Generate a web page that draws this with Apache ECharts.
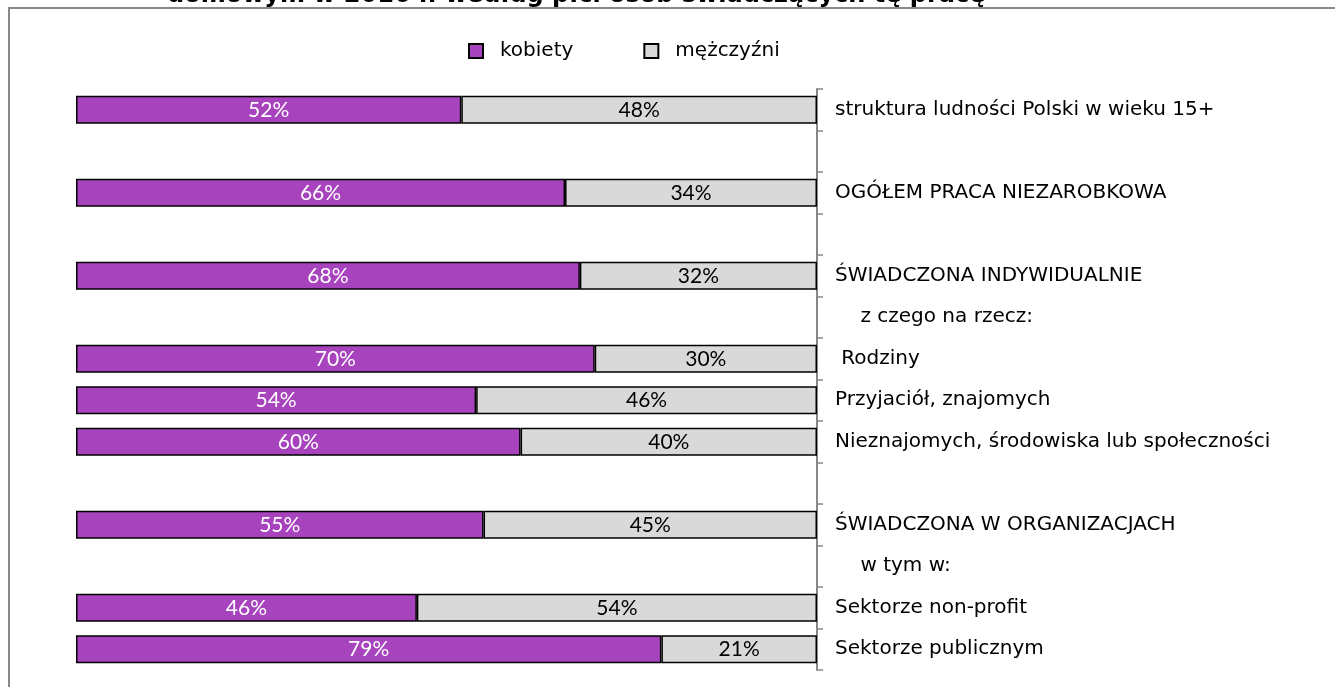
<!DOCTYPE html>
<html>
<head>
<meta charset="utf-8">
<script src="https://cdn.jsdelivr.net/npm/echarts@6/dist/echarts.min.js"></script>
<style>
  html, body { margin: 0; padding: 0; background: #fff; }
  #chart { width: 1335px; height: 687px; }
</style>
</head>
<body>
<div id="chart"></div>
<script>
  // kategorie (puste wiersze = odstępy jak w oryginale)
  var categories = [
    'struktura ludności Polski w wieku 15+',
    '',
    'OGÓŁEM PRACA NIEZAROBKOWA',
    '',
    'ŚWIADCZONA INDYWIDUALNIE',
    '    z czego na rzecz:',
    ' Rodziny',
    'Przyjaciół, znajomych',
    'Nieznajomych, środowiska lub społeczności',
    '',
    'ŚWIADCZONA W ORGANIZACJACH',
    '    w tym w:',
    'Sektorze non-profit',
    'Sektorze publicznym'
  ];
  var kobiety = [52, '-', 66, '-', 68, '-', 70, 54, 60, '-', 55, '-', 46, 79];
  var mezczyzni = [48, '-', 34, '-', 32, '-', 30, 46, 40, '-', 45, '-', 54, 21];
  var titleText = 'domowym w 2016 r. według płci osób świadczących tę pracę';

  var chart = echarts.init(document.getElementById('chart'));

  var option = {
    animation: false,
    backgroundColor: '#fff',
    graphic: [
      {
        type: 'rect',
        shape: { x: 9, y: 8, width: 1400, height: 800 },
        style: { fill: 'none', stroke: '#888', lineWidth: 2 },
        silent: true
      },
      {
        type: 'text',
        x: 167, y: 8,
        style: {
          text: titleText,
          font: 'bold 24px "DejaVu Sans"',
          fill: '#000',
          verticalAlign: 'bottom'
        },
        silent: true
      }
    ],
    legend: {
      left: 463,
      top: 36,
      itemWidth: 14,
      itemHeight: 14,
      itemGap: 70,
      icon: 'rect',
      textStyle: {
        fontFamily: 'DejaVu Sans',
        fontSize: 20,
        color: '#000',
        padding: [0, 0, 0, 12]
      },
      itemStyle: { borderColor: '#000', borderWidth: 2 },
      data: ['kobiety', 'mężczyźni']
    },
    grid: { left: 76, right: 518, top: 89, bottom: 17 },
    xAxis: {
      type: 'value',
      min: 0,
      max: 100,
      show: false
    },
    yAxis: {
      type: 'category',
      data: categories,
      inverse: true,
      position: 'right',
      axisLine: { show: true, onZero: false, lineStyle: { color: '#888', width: 2 } },
      axisTick: { show: true, length: 6, lineStyle: { color: '#888', width: 1.5 } },
      axisLabel: {
        margin: 18,
        fontFamily: 'DejaVu Sans',
        fontSize: 20,
        color: '#000',
        align: 'left'
      },
      splitLine: { show: false }
    },
    series: [
      {
        name: 'kobiety',
        type: 'bar',
        stack: 'plec',
        barCategoryGap: '33%',
        data: kobiety,
        itemStyle: { color: '#A843BE', borderColor: '#000', borderWidth: 1.5 },
        label: {
          show: true,
          position: 'inside',
          formatter: '{c}%',
          color: '#fff',
          fontFamily: 'Lato',
          fontSize: 21
        }
      },
      {
        name: 'mężczyźni',
        type: 'bar',
        stack: 'plec',
        data: mezczyzni,
        itemStyle: { color: '#D9D9D9', borderColor: '#000', borderWidth: 1.5 },
        label: {
          show: true,
          position: 'inside',
          formatter: '{c}%',
          color: '#000',
          fontFamily: 'Lato',
          fontSize: 21
        }
      }
    ]
  };

  chart.setOption(option);
</script>
</body>
</html>
